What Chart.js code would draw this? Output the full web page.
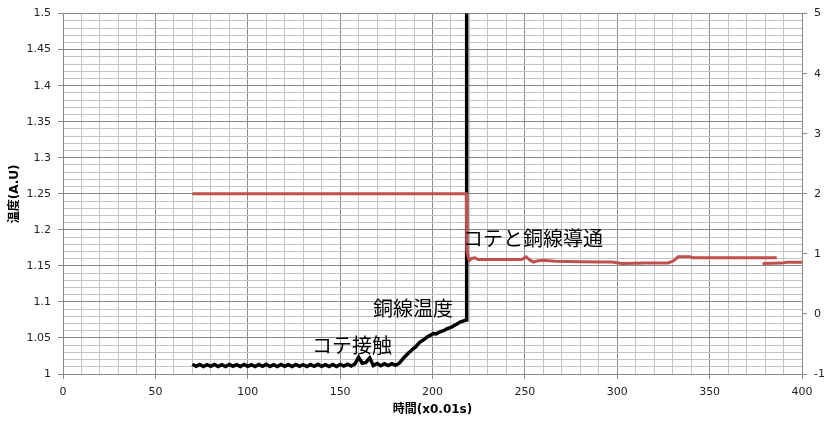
<!DOCTYPE html>
<html>
<head>
<meta charset="utf-8">
<script src="https://cdn.jsdelivr.net/npm/chart.js@4"></script>
<style>
  html, body { margin: 0; padding: 0; background: #fff; }
</style>
</head>
<body>
<canvas id="chart" width="831" height="425"></canvas>
<script>
// 銅線温度 (left axis)
const copperTime = [
  70, 72, 74, 76, 78, 80, 82, 84, 86, 88,
  90, 92, 94, 96, 98, 100, 102, 104, 106, 108,
  110, 112, 114, 116, 118, 120, 122, 124, 126, 128,
  130, 132, 134, 136, 138, 140, 142, 144, 146, 148,
  150, 152, 154, 156, 158, 160, 162, 164, 166, 168,
  170, 172, 174, 176, 178, 180, 182,
  185, 187, 189.5, 191, 193, 195, 197, 199, 200.5, 202,
  204, 206, 208, 210, 211.5, 213, 215, 217.6, 218.3, 218.5
];
const copperTemp = [
  1.0135, 1.0106, 1.0131, 1.0104, 1.0130, 1.0107, 1.0133, 1.0105, 1.0129, 1.0104,
  1.0132, 1.0108, 1.0130, 1.0104, 1.0133, 1.0106, 1.0128, 1.0103, 1.0131, 1.0107,
  1.0134, 1.0105, 1.0129, 1.0104, 1.0132, 1.0108, 1.0130, 1.0105, 1.0133, 1.0106,
  1.0129, 1.0104, 1.0131, 1.0107, 1.0134, 1.0106, 1.0130, 1.0105, 1.0132, 1.0103,
  1.0133, 1.0109, 1.0136, 1.0110, 1.0140, 1.0232, 1.0150, 1.0160, 1.0222, 1.0118,
  1.0145, 1.0115, 1.0142, 1.0117, 1.0144, 1.0120, 1.0150,
  1.0240, 1.0290, 1.0350, 1.0380, 1.0440, 1.0470, 1.0510, 1.0540, 1.0560, 1.0555,
  1.0585, 1.0600, 1.0630, 1.0645, 1.0670, 1.0690, 1.0720, 1.0745, 1.0750, 1.7000
];

// コテと銅線導通 (right axis)
const ironTime = [
  70, 218.3, 218.6, 219.3, 220, 221.2, 223, 224.6, 235, 248.3,
  250.6, 252.5, 254.6, 257, 260, 266.3, 273, 280.7, 290, 297,
  302.4, 310, 315, 320, 327.5, 330.5, 333, 339.4, 341, 360, 386.3
];
const ironSignal = [
  2.0, 2.0, 1.05, 0.95, 0.89, 0.923, 0.935, 0.907, 0.905, 0.907,
  0.95, 0.90, 0.863, 0.885, 0.895, 0.879, 0.872, 0.868, 0.866, 0.864,
  0.84, 0.845, 0.846, 0.85, 0.848, 0.885, 0.95, 0.95, 0.934, 0.934, 0.934
];
const ironTimeTail = [378.7, 384, 389, 392, 400];
const ironSignalTail = [0.84, 0.845, 0.846, 0.862, 0.862];

// 目盛
const xTickLabels = [0, 50, 100, 150, 200, 250, 300, 350, 400];
const yTickLabels = [1, 1.05, 1.1, 1.15, 1.2, 1.25, 1.3, 1.35, 1.4, 1.45, 1.5];
const y1TickLabels = [-1, 0, 1, 2, 3, 4, 5];
const xMinorStep = 10;
const yMinorStep = 0.01;

// 注記
const noteText = ['コテ接触', '銅線温度', 'コテと銅線導通'];
const noteX = [134.8, 167.8, 216.5];
const noteY = [1.040, 1.0907, 1.188];

const xTitle = '時間(x0.01s)';
const yTitle = '温度(A.U)';

const majorGrid = '#8a8a8a';
const minorGrid = '#c4c4c4';
const redLine = '#c0504d';

function isLabelled(v, list) {
  return list.some(t => Math.abs(t - v) < 1e-6);
}
function toPoints(xs, ys) {
  return xs.map((x, i) => ({ x: x, y: ys[i] }));
}
// minor grid ticks between first and last labelled value
function minorTicks(list, step) {
  const out = [];
  const n = Math.round((list[list.length - 1] - list[0]) / step);
  for (let i = 0; i <= n; i++) out.push({ value: Math.round((list[0] + i * step) * 1e6) / 1e6 });
  return out;
}

const noteLabels = {
  id: 'noteLabels',
  afterDatasetsDraw(chart) {
    const { ctx, scales } = chart;
    ctx.save();
    ctx.font = '20px "Noto Sans CJK JP"';
    ctx.fillStyle = '#000';
    ctx.textAlign = 'left';
    ctx.textBaseline = 'middle';
    noteText.forEach((t, i) => {
      ctx.fillText(t, scales.x.getPixelForValue(noteX[i]), scales.y.getPixelForValue(noteY[i]));
    });
    ctx.restore();
  }
};

Chart.defaults.font.family = '"DejaVu Sans", "Noto Sans CJK JP", sans-serif';
Chart.defaults.font.size = 11;
Chart.defaults.color = '#222';

new Chart(document.getElementById('chart').getContext('2d'), {
  type: 'scatter',
  data: {
    datasets: [
      {
        data: toPoints(ironTime, ironSignal),
        yAxisID: 'y1',
        showLine: true,
        borderColor: redLine,
        borderWidth: 3,
        pointRadius: 0,
        order: 0
      },
      {
        data: toPoints(ironTimeTail, ironSignalTail),
        yAxisID: 'y1',
        showLine: true,
        borderColor: redLine,
        borderWidth: 3,
        pointRadius: 0,
        order: 0
      },
      {
        data: toPoints(copperTime, copperTemp),
        yAxisID: 'y',
        showLine: true,
        borderColor: '#000',
        borderWidth: 3.5,
        pointRadius: 0,
        order: 1
      }
    ]
  },
  options: {
    responsive: false,
    animation: false,
    layout: { padding: { top: 10 } },
    plugins: { legend: { display: false }, tooltip: { enabled: false } },
    scales: {
      x: {
        type: 'linear',
        min: xTickLabels[0],
        max: xTickLabels[xTickLabels.length - 1],
        afterFit: s => { s.height = 51; },
        afterBuildTicks: s => { s.ticks = minorTicks(xTickLabels, xMinorStep); },
        ticks: {
          autoSkip: false,
          source: 'data',
          maxRotation: 0,
          padding: 7,
          // '' (not null) so the minor grid lines are kept
          callback: v => isLabelled(v, xTickLabels) ? String(v) : ''
        },
        grid: {
          color: c => isLabelled(c.tick.value, xTickLabels) ? majorGrid : minorGrid,
          tickColor: c => isLabelled(c.tick.value, xTickLabels) ? majorGrid : 'rgba(0,0,0,0)',
          tickLength: 5
        },
        border: { color: majorGrid },
        title: {
          display: true,
          text: xTitle,
          font: { size: 12, weight: 'bold' },
          color: '#000',
          padding: { top: 0, bottom: 8 }
        }
      },
      y: {
        position: 'left',
        min: yTickLabels[0],
        max: yTickLabels[yTickLabels.length - 1],
        afterFit: s => { s.width = 63; },
        afterBuildTicks: s => { s.ticks = minorTicks(yTickLabels, yMinorStep); },
        ticks: {
          autoSkip: false,
          source: 'data',
          padding: 7,
          callback: v => isLabelled(v, yTickLabels) ? String(v) : ''
        },
        grid: {
          color: c => isLabelled(c.tick.value, yTickLabels) ? majorGrid : minorGrid,
          tickColor: c => isLabelled(c.tick.value, yTickLabels) ? majorGrid : 'rgba(0,0,0,0)',
          tickLength: 5
        },
        border: { color: majorGrid },
        title: {
          display: true,
          text: yTitle,
          font: { size: 12, weight: 'bold' },
          color: '#000',
          padding: { top: 8, bottom: 0 }
        }
      },
      y1: {
        position: 'right',
        min: y1TickLabels[0],
        max: y1TickLabels[y1TickLabels.length - 1],
        afterFit: s => { s.width = 29; },
        ticks: { stepSize: 1, padding: 7 },
        grid: {
          drawOnChartArea: false,
          color: majorGrid,
          tickLength: 5
        },
        border: { color: majorGrid }
      }
    }
  },
  plugins: [noteLabels]
});
</script>
</body>
</html>
